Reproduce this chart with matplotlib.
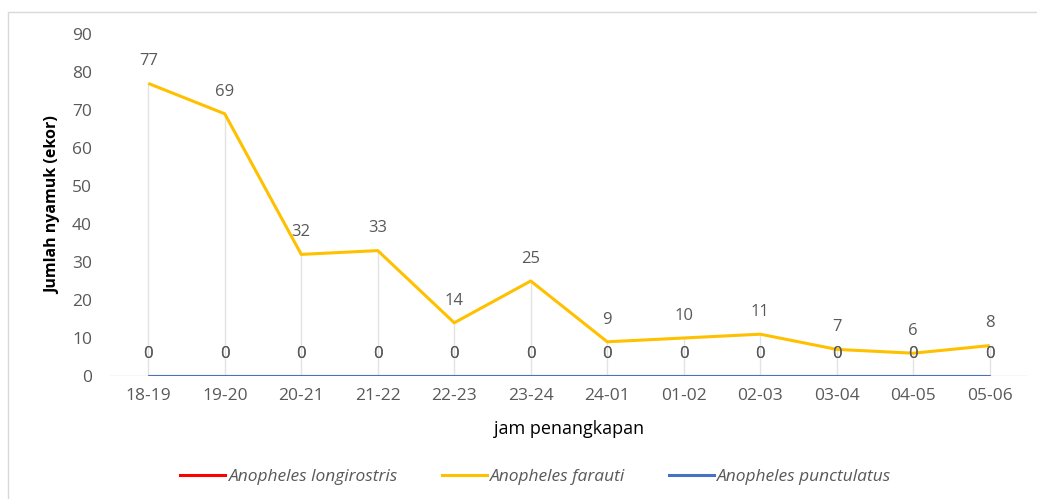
import matplotlib.pyplot as plt
from matplotlib.patches import Rectangle
from matplotlib.lines import Line2D

plt.rcParams['font.family'] = ['Open Sans', 'DejaVu Sans']

hours = ["18-19", "19-20", "20-21", "21-22", "22-23", "23-24",
         "24-01", "01-02", "02-03", "03-04", "04-05", "05-06"]
longirostris = [0, 0, 0, 0, 0, 0, 0, 0, 0, 0, 0, 0]
farauti = [77, 69, 32, 33, 14, 25, 9, 10, 11, 7, 6, 8]
punctulatus = [0, 0, 0, 0, 0, 0, 0, 0, 0, 0, 0, 0]

series = [
    ("Anopheles longirostris", longirostris, "#FF0000"),
    ("Anopheles farauti", farauti, "#FFC000"),
    ("Anopheles punctulatus", punctulatus, "#4472C4"),
]

fig = plt.figure(figsize=(10.37, 4.99), dpi=100)
# chart border like Excel
fig.patches.append(Rectangle((8 / 1037, -0.01), 1.02, 1 - 12 / 499 + 0.01,
                             transform=fig.transFigure, fill=False,
                             edgecolor="#D9D9D9", linewidth=1))

ax = fig.add_axes([110 / 1037, 123 / 499, 918 / 1037, 342 / 499])
x = list(range(len(hours)))

# drop lines
tops = [max(a, b, c) for a, b, c in zip(longirostris, farauti, punctulatus)]
ax.vlines(x, 0, tops, color="#E3E3E3", linewidth=1, zorder=1)
ax.axhline(0, color="#D9D9D9", linewidth=1, zorder=1)

for name, vals, col in series:
    ax.plot(x, vals, color=col, linewidth=2.2, solid_capstyle="butt", zorder=3)
    for xi, v in zip(x, vals):
        ax.annotate(str(v), (xi, v), xytext=(0, 16), textcoords="offset points",
                    ha="center", va="center", fontsize=12, color="#595959", zorder=4)

ax.set_xlim(-0.5, len(hours) - 0.5)
ax.set_ylim(0, 90)
ax.set_yticks(range(0, 91, 10))
ax.set_xticks(x)
ax.set_xticklabels(hours)
for s in ax.spines.values():
    s.set_visible(False)
ax.tick_params(axis="both", length=0, labelsize=12.5, colors="#595959")
ax.tick_params(axis="y", pad=13)
ax.tick_params(axis="x", pad=9)

ax.set_xlabel("jam penangkapan", fontsize=13, color="black", labelpad=11)
ax.set_ylabel("Jumlah nyamuk (ekor)", fontsize=11.5, fontweight="bold",
              color="black", labelpad=8)

handles = [Line2D([], [], color=c, linewidth=2.2) for _, _, c in series]
leg = fig.legend(handles, [n for n, _, _ in series], loc="center",
                 bbox_to_anchor=(536 / 1037, 1 - 477 / 499), ncol=3, frameon=False,
                 prop={"style": "italic", "size": 12.5}, handlelength=2.6,
                 handletextpad=0.2, columnspacing=2.5)
for t in leg.get_texts():
    t.set_color("#595959")

fig.savefig("out.png", dpi=100)
